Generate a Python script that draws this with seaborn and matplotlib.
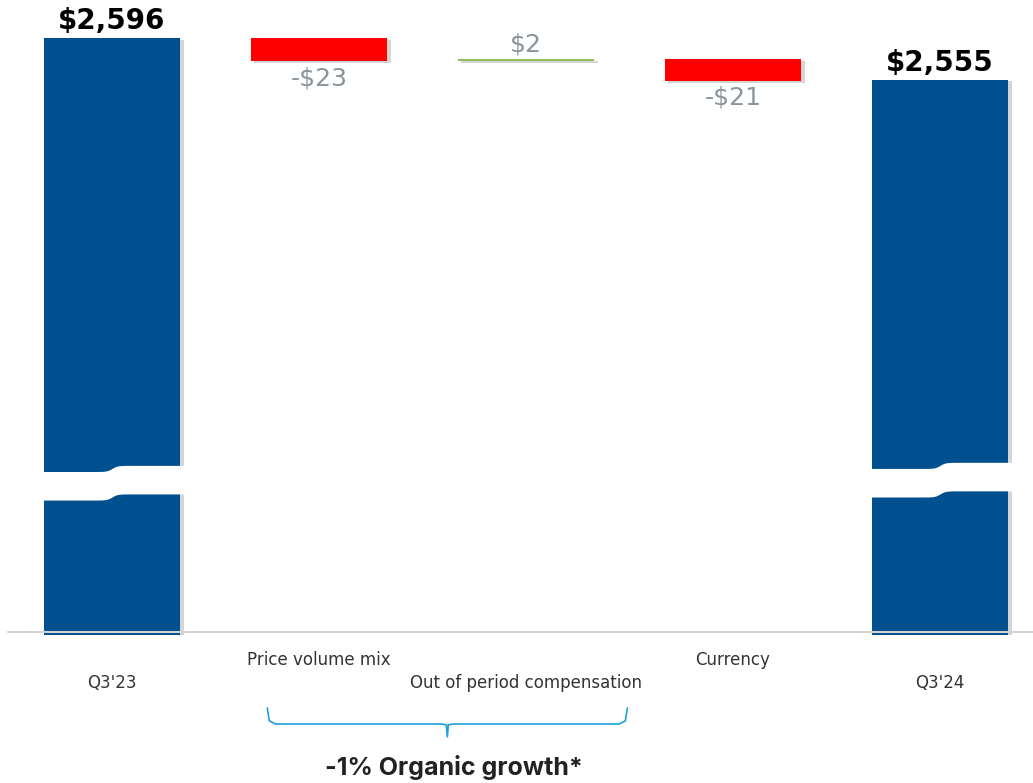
import numpy as np
import pandas as pd
import matplotlib
matplotlib.use('Agg')
import matplotlib.pyplot as plt
import matplotlib.patheffects as pe
import matplotlib.transforms as mtransforms
import seaborn as sns

# datos
categorias = ["Q3'23", "Price volume mix", "Out of period compensation", "Currency", "Q3'24"]
totales = {"Q3'23": 2596, "Q3'24": 2555}
deltas = [-23, 2, -21]
etiquetasDelta = ["-$23", "$2", "-$21"]
etiquetasTotal = ["$2,596", "$2,555"]
nota = "-1% Organic growth*"

AZUL = "#00508f"
ROJO = "#ff0000"
VERDE = "#8fbf5a"
GRIS = "#8a949c"

sns.set_theme(style="white")
plt.rcParams['font.family'] = ['DejaVu Sans']

fig = plt.figure(figsize=(10.33, 7.83), dpi=100)
ax = fig.add_axes([0, 1 - 635 / 783, 1, 635 / 783])

escala = 1.02  # px por unidad
yTop = 2596 + 38 / escala
yBot = 2596 - 597 / escala
yEje = 2596 - 594 / escala

dfTot = pd.DataFrame({"cat": list(totales.keys()), "val": list(totales.values())})
sns.barplot(data=dfTot, x="cat", y="val", order=categorias, width=0.66,
            color=AZUL, saturation=1, linewidth=0, ax=ax, zorder=2)

sombra = [pe.SimplePatchShadow(offset=(2.5, -1.2), shadow_rgbFace="#777777", alpha=0.3), pe.Normal()]
for p in ax.patches:
    p.set_path_effects(sombra)

# barras de variación
nivel = totales["Q3'23"]
for i, d in enumerate(deltas, start=1):
    color = ROJO if d < 0 else VERDE
    ax.bar(i, d, bottom=nivel, width=0.66, color=color, linewidth=0, zorder=2,
           path_effects=sombra)
    if d < 0:
        ax.text(i, nivel + d - 5, etiquetasDelta[i - 1], ha="center", va="top",
                fontsize=18, color=GRIS)
    else:
        ax.text(i, nivel + d + 3, etiquetasDelta[i - 1], ha="center", va="bottom",
                fontsize=18, color=GRIS)
    nivel += d

for i, (cat, lab) in zip([0, 4], zip(totales.keys(), etiquetasTotal)):
    ax.text(i, totales[cat] + 3, lab, ha="center", va="bottom", fontsize=20,
            fontweight="bold", color="black")

# corte del eje (banda blanca ondulada)
for i, cat in zip([0, 4], totales.keys()):
    xs = np.linspace(i - 0.35, i + 0.37, 200)
    paso = 3 * np.tanh((xs - i) * 40)
    base = 2160 if i == 0 else 2163
    ax.fill_between(xs, base - 14 + paso, base + 14 + paso, color="white", zorder=3, lw=0)

ax.set_xlim(-112 / 207, (1033 - 112) / 207)
ax.set_ylim(yBot, yTop)
ax.axhline(yEje, xmin=8 / 1033, xmax=1, color="#d4d4d4", lw=1.5, zorder=4)
ax.axis("off")

# etiquetas del eje x escalonadas
trans = mtransforms.blended_transform_factory(ax.transData, fig.transFigure)
for i, cat in enumerate(categorias):
    ypx = 660 if i in (1, 3) else 683
    ax.text(i, 1 - ypx / 783, cat, transform=trans, ha="center", va="center",
            fontsize=12, color="#333333")

# llave
xa, xb = 1 - 0.25, 2 + 0.49
xm = (xa + xb) / 2
y1, y2, y3 = 1 - 708 / 783, 1 - 724 / 783, 1 - 740 / 783
bx = [xa, xa + 0.01, xa + 0.04, xm - 0.03, xm - 0.005, xm, xm + 0.005, xm + 0.03, xb - 0.04, xb - 0.01, xb]
by = [y1, y2 + 0.004, y2, y2, y2 - 0.001, y3 + 0.004, y2 - 0.001, y2, y2, y2 + 0.004, y1]
ax.plot(bx, by, transform=trans, color="#1ea0e0", lw=1.2, clip_on=False)

ax.text(xm + 0.03, 1 - 767 / 783, nota, transform=trans, ha="center", va="center",
        fontsize=18, fontweight="bold", color="#222222", family=["Inter", "DejaVu Sans"])

fig.savefig("out.png", dpi=100)
